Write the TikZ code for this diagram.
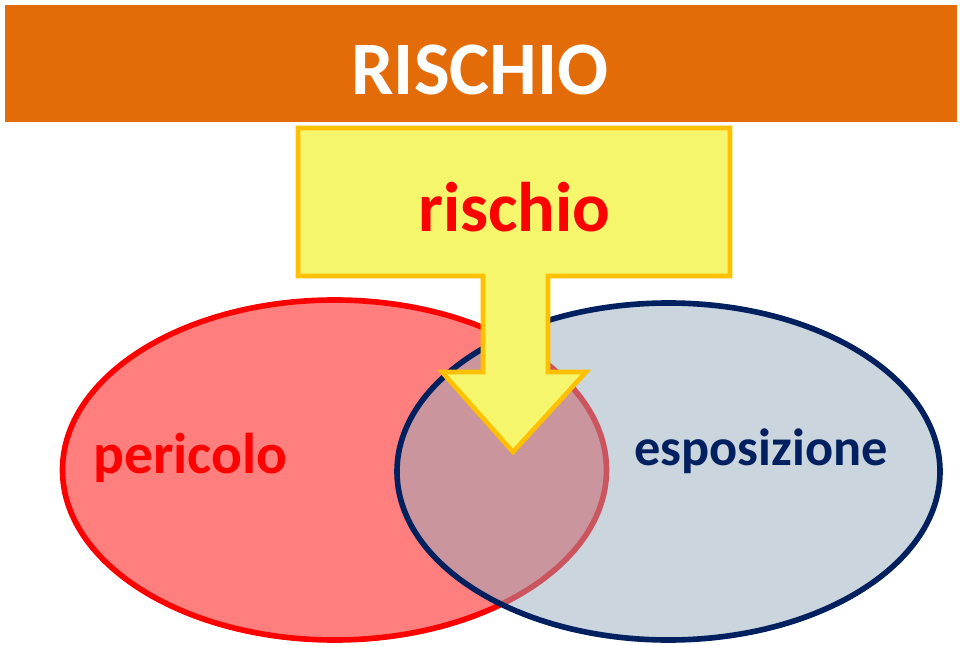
\documentclass[tikz,border=0pt]{standalone}
\usepackage{fontspec}
\setmainfont{Carlito}
\definecolor{arancio}{HTML}{E36C09}
\definecolor{giallo}{HTML}{F6F66C}
\definecolor{oro}{HTML}{FFC000}
\definecolor{rosso}{HTML}{FF0000}
\definecolor{rosa}{HTML}{FF7F7F}
\definecolor{blu}{HTML}{002060}
\definecolor{grigioblu}{RGB}{150,171,188}
\tikzset{
  titolo/.style={font=\fontsize{43}{48}\selectfont\bfseries, text=white, anchor=base},
  etichetta/.style={font=\bfseries, anchor=base},
}
\begin{document}
\begin{tikzpicture}[x=0.02cm,y=-0.02cm]
	\useasboundingbox (0,0) rectangle (960,645);

	% Barra del titolo
	\fill[arancio] (5,5) rectangle (957,122);
	\node[titolo] (titolo) at (480,95) {RISCHIO};

	% Insieme del pericolo
	\draw[line width=3.2pt, rosso, fill=rosa] (334.5,470) ellipse (272 and 170);
	% Insieme dell'esposizione (trasparente)
	\fill[grigioblu, opacity=0.5] (668.5,471.5) ellipse (271.5 and 168.5);
	\draw[line width=3.2pt, blu] (668.5,471.5) ellipse (271.5 and 168.5);

	% Freccia del rischio
	\draw[line width=2.6pt, oro, fill=giallo, line join=miter]
		(298,128) -- (730,128) -- (730,276) -- (548,276) -- (548,372)
		-- (586,372) -- (513,452) -- (442,372) -- (483,372) -- (483,276)
		-- (298,276) -- cycle;

	% Etichette
	\node[etichetta, text=rosso, font=\fontsize{40}{44}\selectfont\bfseries] (rischio) at (514.5,232) {rischio};
	\node[etichetta, text=rosso, font=\fontsize{32.7}{36}\selectfont\bfseries] (pericolo) at (190.5,473) {pericolo};
	\node[etichetta, text=blu, font=\fontsize{29.8}{33}\selectfont\bfseries] (esposizione) at (761,465) {esposizione};
\end{tikzpicture}
\end{document}
